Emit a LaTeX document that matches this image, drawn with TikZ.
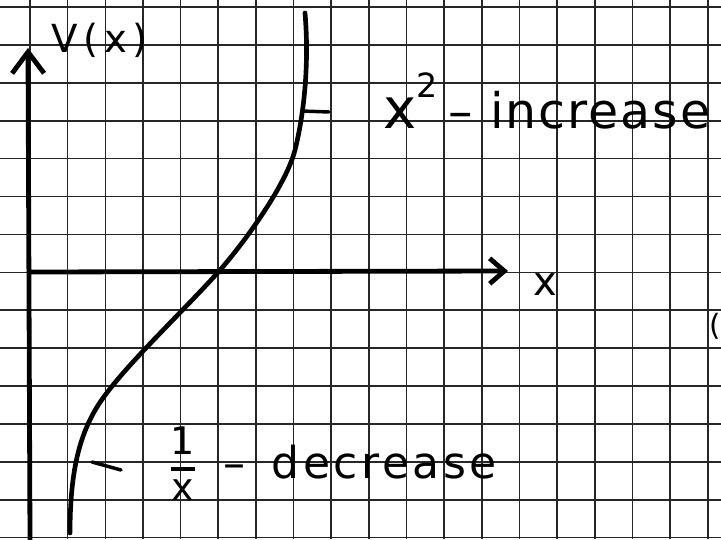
\documentclass[tikz,border=0pt]{standalone}
\usepackage{fontspec}
\usepackage{amsmath}
\usetikzlibrary{arrows.meta}
\setmainfont{DejaVu Sans}
\newfontfamily\handfont{DejaVu Sans}
\begin{document}
\begin{tikzpicture}[x=0.75pt,y=-0.75pt,
  gridline/.style={line width=1.2pt,draw=black!85},
  pen/.style={line width=3.5pt,line cap=round,line join=round},
  tickline/.style={line width=2.6pt,line cap=round},
  axis/.style={line width=3.6pt,line cap=round},
  hand/.style={inner sep=0pt,outer sep=0pt,font=\handfont}]
\useasboundingbox (0,0) rectangle (721,539);
\fill[white] (0,0) rectangle (721,539);
% grid paper
\foreach \k in {0,...,18} \draw[gridline] ({30+37.65*\k},0) -- ({30+37.65*\k},539);
\foreach \k in {0,...,14} \draw[gridline] (0,{7+37.9*\k}) -- (721,{7+37.9*\k});
% axes
\coordinate (ybot) at (30,539);
\coordinate (ytip) at (28,48);
\coordinate (xorig) at (29,272);
\coordinate (xtip) at (508,271);
\draw[axis,-{Straight Barb[length=16pt,width=24pt]}] (ybot) -- (ytip);
\draw[axis,-{Straight Barb[length=11pt,width=19pt]}] (xorig) -- (xtip);
% curve
\coordinate (cbot) at (70,533);
\coordinate (cmid) at (221,269);
\coordinate (ctop) at (305,13);
\draw[pen] (cbot) .. controls (70,470) and (80,435) .. (97,407)
  .. controls (120,370) and (180,315) .. (cmid)
  .. controls (246,240) and (286,185) .. (295,150)
  .. controls (305,110) and (309,60) .. (ctop);
% leader ticks
\coordinate (ta) at (302,111);
\coordinate (tb) at (329,112);
\coordinate (tc) at (92,462);
\coordinate (td) at (121,470);
\draw[tickline] (ta) -- (tb);
\draw[tickline] (tc) -- (td);
% labels
\node[hand,anchor=base west] (vlab) at (51,52) {\fontsize{29}{32}\selectfont\addfontfeature{LetterSpace=15}V(x)};
\node[hand,anchor=base west] (xlab) at (533,295) {\fontsize{30}{30}\selectfont x};
\node[hand,anchor=base west] (uplab) at (383,128) {\fontsize{42}{42}\selectfont x\raisebox{23pt}{\fontsize{25}{25}\selectfont 2}\hspace{8pt}\fontsize{36.75}{40}\selectfont\addfontfeature{LetterSpace=4}– increase};
\node[hand] (frac) at (183,464) {\fontsize{28.5}{30}\selectfont$\genfrac{}{}{2.4pt}{0}{\mbox{1}}{\mbox{x}}$};
\node[hand,anchor=base west] (lowlab) at (223,478) {\fontsize{33}{35}\selectfont –\hspace{20pt}\addfontfeature{LetterSpace=8}decrease};
\node[hand,anchor=base west] (edge) at (709,335) {\fontsize{22}{24}\selectfont (};
\end{tikzpicture}
\end{document}
